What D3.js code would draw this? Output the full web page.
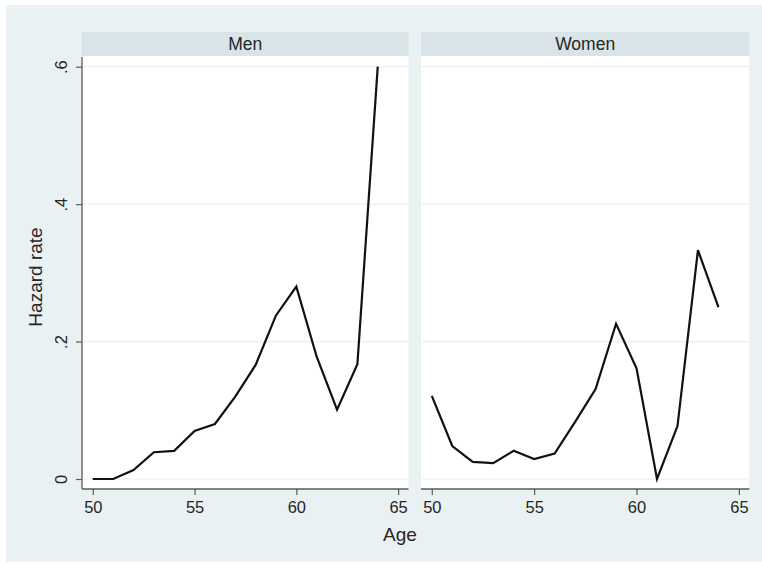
<!DOCTYPE html>
<html>
<head>
<meta charset="utf-8">
<script src="https://cdn.jsdelivr.net/npm/d3@7"></script>
<style>
  html, body { margin: 0; padding: 0; background: #ffffff; }
  svg { display: block; font-family: "Liberation Sans", Arial, Helvetica, sans-serif; }
</style>
</head>
<body>
<svg id="chart" width="762" height="563"></svg>
<script>
// Hazard rate by age, separately for men and women
const ages = [50, 51, 52, 53, 54, 55, 56, 57, 58, 59, 60, 61, 62, 63, 64];
const menHazard = [0, 0, 0.013, 0.039, 0.041, 0.070, 0.080, 0.120, 0.166, 0.238, 0.280, 0.178, 0.101, 0.167, 0.600];
const womenHazard = [0.121, 0.048, 0.025, 0.023, 0.041, 0.029, 0.037, 0.083, 0.131, 0.226, 0.161, 0, 0.077, 0.333, 0.250];
const panelNames = ["Men", "Women"];
const xTicks = [50, 55, 60, 65];
const yTicks = [0, 0.2, 0.4, 0.6];
const yTickLabels = ["0", ".2", ".4", ".6"];

const svg = d3.select("#chart");

const bgColor = "#eaf1f3";
const stripColor = "#d9e4e8";
const gridColor = "#e6eff1";
const axisColor = "#5a5a5a";
const textColor = "#262626";

// graph region
svg.append("rect")
  .attr("x", 6).attr("y", 5).attr("width", 756).attr("height", 557)
  .attr("fill", bgColor);

const stripTop = 32, stripH = 24;
const plotTop = stripTop + stripH, plotBottom = 489;
const panels = [
  { name: panelNames[0], values: menHazard, left: 82, right: 408.5, yAxis: true },
  { name: panelNames[1], values: womenHazard, left: 421, right: 749.3, yAxis: false }
];

const y = d3.scaleLinear().domain([0, 0.6]).range([479, 66.7]);

panels.forEach(p => {
  const g = svg.append("g");
  const w = p.right - p.left;
  const x = d3.scaleLinear().domain([50, 65]).range([p.left + 10.8, p.right - 10.4]);

  // strip
  g.append("rect")
    .attr("x", p.left).attr("y", stripTop).attr("width", w).attr("height", stripH)
    .attr("fill", stripColor);
  g.append("text")
    .attr("x", (p.left + p.right) / 2).attr("y", 50)
    .attr("text-anchor", "middle")
    .attr("font-size", 17.5)
    .attr("fill", textColor)
    .text(p.name);

  // plot region
  g.append("rect")
    .attr("x", p.left).attr("y", plotTop).attr("width", w).attr("height", plotBottom - plotTop)
    .attr("fill", "#ffffff");

  // horizontal grid
  g.selectAll("line.grid")
    .data(yTicks)
    .join("line")
    .attr("class", "grid")
    .attr("x1", p.left + 1).attr("x2", p.right)
    .attr("y1", d => y(d)).attr("y2", d => y(d))
    .attr("stroke", gridColor).attr("stroke-width", 1.2);

  // x axis
  const xAxis = d3.axisBottom(x)
    .tickValues(xTicks)
    .tickSize(6)
    .tickPadding(6)
    .tickFormat(d3.format("d"));
  const gx = g.append("g")
    .attr("transform", `translate(0,${plotBottom})`)
    .call(xAxis);
  gx.select(".domain").remove();
  gx.selectAll(".tick line").attr("stroke", axisColor).attr("stroke-width", 1.2);
  gx.selectAll(".tick text")
    .attr("font-size", 16.5)
    .attr("fill", textColor)
    .attr("font-family", "Liberation Sans, Arial, Helvetica, sans-serif");
  g.append("line")
    .attr("x1", p.left).attr("x2", p.right)
    .attr("y1", plotBottom).attr("y2", plotBottom)
    .attr("stroke", axisColor).attr("stroke-width", 1.3);

  // y axis (left panel only)
  if (p.yAxis) {
    const yAxis = d3.axisLeft(y)
      .tickValues(yTicks)
      .tickSize(6)
      .tickFormat((d, i) => yTickLabels[i]);
    const gy = g.append("g")
      .attr("transform", `translate(${p.left},0)`)
      .call(yAxis);
    gy.select(".domain").remove();
    gy.selectAll(".tick line").attr("stroke", axisColor).attr("stroke-width", 1.2);
    gy.selectAll(".tick text")
      .attr("font-size", 16.5)
      .attr("fill", textColor)
      .attr("font-family", "Liberation Sans, Arial, Helvetica, sans-serif")
      .attr("text-anchor", "middle")
      .attr("dy", null)
      .attr("x", null)
      .attr("transform", "translate(-15.5,0) rotate(-90)");
    g.append("line")
      .attr("x1", p.left).attr("x2", p.left)
      .attr("y1", plotTop + 1).attr("y2", plotBottom)
      .attr("stroke", axisColor).attr("stroke-width", 1.3);
  }

  // hazard line
  const line = d3.line()
    .x((d, i) => x(ages[i]))
    .y(d => y(d));
  g.append("path")
    .datum(p.values)
    .attr("d", line)
    .attr("fill", "none")
    .attr("stroke", "#111111")
    .attr("stroke-width", 2.2)
    .attr("stroke-linejoin", "miter");
});

// axis titles
svg.append("text")
  .attr("x", 400).attr("y", 541)
  .attr("text-anchor", "middle")
  .attr("font-size", 19)
  .attr("fill", textColor)
  .text("Age");

svg.append("text")
  .attr("transform", "translate(42,277) rotate(-90)")
  .attr("text-anchor", "middle")
  .attr("font-size", 19)
  .attr("fill", textColor)
  .text("Hazard rate");
</script>
</body>
</html>
